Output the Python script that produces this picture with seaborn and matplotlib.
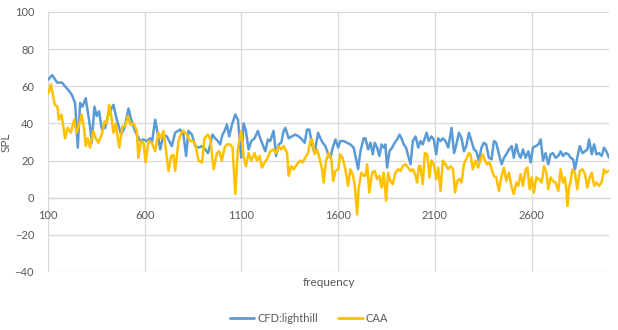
import matplotlib
matplotlib.use("Agg")
import matplotlib.pyplot as plt
import seaborn as sns
import pandas as pd

# ---- data ----
cfd_freq = [100, 122, 147, 172, 188, 205, 223, 240, 254, 266, 278, 295, 317, 326, 340, 352, 364, 378, 395, 409,
            438, 456, 478, 495, 516, 533, 550, 559, 576, 593, 611, 628, 637, 654, 668, 680, 697, 714, 740, 757,
            783, 800, 814, 826, 844, 861, 878, 899, 913, 927, 939, 950, 964, 978, 990, 1002, 1013, 1025, 1037, 1051,
            1068, 1082, 1099, 1111, 1123, 1137, 1151, 1168, 1185, 1197, 1209, 1223, 1237, 1249, 1266, 1279, 1292, 1306, 1318, 1327,
            1344, 1361, 1378, 1396, 1413, 1427, 1439, 1451, 1465, 1478, 1496, 1508, 1520, 1534, 1548, 1560, 1572, 1586, 1600, 1611,
            1628, 1646, 1663, 1680, 1693, 1703, 1715, 1732, 1741, 1755, 1767, 1779, 1789, 1801, 1813, 1824, 1835, 1844, 1853, 1865,
            1879, 1892, 1905, 1917, 1927, 1939, 1951, 1962, 1974, 1986, 2000, 2014, 2025, 2037, 2048, 2057, 2068, 2082, 2094, 2107,
            2117, 2129, 2141, 2155, 2169, 2186, 2199, 2211, 2224, 2238, 2250, 2262, 2276, 2289, 2302, 2314, 2327, 2341, 2353, 2365,
            2379, 2393, 2405, 2417, 2431, 2445, 2457, 2469, 2483, 2497, 2508, 2521, 2531, 2543, 2555, 2569, 2583, 2595, 2607, 2621,
            2635, 2647, 2659, 2672, 2686, 2698, 2710, 2724, 2738, 2750, 2762, 2776, 2790, 2802, 2814, 2824, 2836, 2849, 2863, 2876,
            2888, 2897, 2911, 2923, 2935, 2948, 2962, 2974, 2986, 3000]
cfd_spl = [63.5, 66, 62, 62, 60, 58, 55.5, 51, 27, 51, 49, 53.6, 38.5, 29.6, 49, 44, 46.5, 37, 37.6, 44,
           50, 42, 34, 37.6, 48, 41, 36, 34, 30.5, 31.4, 30.5, 32, 29.6, 42, 34, 26, 34, 33, 27.8, 35,
           36.7, 34, 22.5, 36, 34, 27.8, 27, 27.8, 26, 24, 28.7, 34, 32, 30.5, 28.7, 34, 36, 39.4, 33, 39.4,
           44.8, 42, 21.5, 40, 36, 26, 30.5, 32, 36, 32, 28.7, 25, 31.4, 30.5, 36, 22.5, 28.7, 29.6, 36, 37.6,
           32, 33, 34, 33, 31.4, 29.6, 36.7, 36.7, 28.7, 24, 35, 32, 29.6, 27.8, 23.4, 21.5, 27, 31.4, 27, 30.5,
           30.5, 29.6, 28.7, 27, 20.7, 15.3, 25, 32, 32, 26, 29.6, 23.4, 29.6, 27, 22.5, 28.7, 27, 28.7, 16.2, 25,
           27, 29.6, 31.4, 34, 32, 28.7, 27, 22.5, 18, 30.5, 33, 27, 30.5, 28.7, 32, 35, 30.5, 33, 31.4, 23.4,
           32, 30.5, 32, 30.5, 27, 37.6, 24, 28.7, 35, 32, 25, 27.8, 35, 30.5, 26, 25, 20, 27, 29.6, 28.7,
           21.5, 20.7, 30.5, 29.6, 23.4, 18, 21.5, 23.4, 26, 27.8, 21.5, 28.7, 24, 21.5, 26, 21.5, 25, 19, 27, 27.8,
           28.7, 31.4, 20, 24, 18, 23.4, 24, 21.5, 22.5, 25, 22.5, 24, 23.4, 21.5, 20.7, 15.3, 21.5, 27.8, 24, 25,
           26, 31.4, 23.4, 28.7, 23.4, 24, 22.5, 27, 25, 21.5]

caa_freq = [100, 115, 135, 149, 156, 170, 188, 201, 218, 235, 247, 256, 274, 287, 295, 305, 317, 334, 347, 360,
            378, 391, 404, 416, 426, 438, 450, 468, 485, 499, 513, 525, 542, 559, 567, 581, 593, 605, 619, 637,
            654, 671, 685, 697, 709, 723, 737, 749, 757, 775, 789, 800, 818, 835, 852, 864, 878, 896, 909, 927,
            939, 956, 973, 985, 999, 1013, 1025, 1042, 1054, 1068, 1082, 1099, 1111, 1123, 1137, 1151, 1168, 1180, 1194, 1206,
            1220, 1232, 1249, 1266, 1279, 1292, 1306, 1318, 1327, 1336, 1344, 1358, 1370, 1387, 1404, 1416, 1430, 1444, 1456, 1465,
            1478, 1491, 1503, 1517, 1525, 1537, 1551, 1565, 1574, 1586, 1600, 1611, 1623, 1637, 1651, 1663, 1675, 1685, 1698, 1706,
            1720, 1732, 1741, 1750, 1761, 1775, 1789, 1801, 1813, 1824, 1835, 1848, 1858, 1870, 1882, 1896, 1910, 1922, 1934, 1948,
            1962, 1974, 1986, 2000, 2008, 2017, 2025, 2037, 2048, 2060, 2072, 2082, 2094, 2107, 2117, 2129, 2141, 2155, 2169, 2181,
            2194, 2204, 2216, 2227, 2238, 2250, 2262, 2276, 2284, 2296, 2310, 2324, 2336, 2348, 2358, 2370, 2382, 2393, 2405, 2417,
            2431, 2445, 2457, 2469, 2483, 2497, 2508, 2521, 2531, 2543, 2555, 2569, 2578, 2590, 2600, 2612, 2624, 2638, 2652, 2664,
            2676, 2686, 2698, 2710, 2724, 2738, 2750, 2762, 2772, 2780, 2785, 2793, 2802, 2811, 2824, 2836, 2849, 2863, 2876, 2888,
            2900, 2911, 2923, 2935, 2948, 2962, 2974, 2983, 2997]
caa_spl = [56, 61, 50, 49, 42, 44.7, 32, 37.6, 35, 42, 35, 37.6, 44.7, 36.7, 27.8, 32, 27, 36, 32, 29.6,
           34, 41, 40, 50, 45, 35, 40, 27, 38.5, 38.5, 44, 39.4, 40, 36, 21.5, 30.5, 29.6, 19, 30.5, 29.6,
           25, 35, 32, 36, 26, 14.4, 22.5, 23, 14.4, 30.5, 35, 36, 34, 30.5, 30.5, 27.8, 20, 19, 32, 34,
           31.4, 15.3, 24, 25, 20, 27, 28.7, 28.7, 27, 2, 27, 36, 22.5, 17, 24, 20, 24, 20, 22.5, 16.2,
           19, 20.7, 25, 26, 24, 27.8, 26, 27.8, 26, 24, 11.8, 17, 15.3, 18, 20, 19, 21.5, 24, 30.5, 31.4,
           23.4, 26, 21.5, 15.3, 8.2, 20, 24, 20.7, 9, 14.4, 15.3, 23.4, 21.5, 15.3, 6.4, 15.3, 12.7, 7.3, -9, 5.5,
           13.5, 11.8, 11.8, 18, 2.8, 13.5, 14.4, 10, 11.8, 5.5, 13.5, -1.6, 13.5, 9, 7.3, 13.5, 15.3, 14.4, 17, 18,
           16.2, 14.4, 15.3, 11.8, 8.2, 17, 17, 7.3, 24, 23.4, 10.9, 20, 18, 10, 16.2, 3.7, 20, 18, 15.3, 17,
           15.3, 2.8, 9, 10, 8.2, 18, 20.7, 24, 23.4, 15.3, 20, 16.2, 20.7, 23.4, 20, 18, 19, 15.3, 11.8, 10.9,
           3.7, 11.8, 16.2, 9, 13.5, 5.5, 2, 8.2, 6.4, 12.7, 6.4, 15.3, 16.2, 4.6, 10.9, 2.8, 10.9, 10, 8.2, 17,
           13.5, 4.6, 10.9, 9, 8.2, 3.7, 15.3, 8.2, 10.9, 3.7, -4.3, 5.5, 9, 15.3, 13.5, 4.6, 14.4, 15.3, 12.7, 5.5,
           10.9, 13.5, 6.4, 8.2, 6.4, 8.2, 15.3, 13.5, 14.4]

series_names = ["CFD:lighthill", "CAA"]
series_colors = ["#5B9BD5", "#FFC000"]
x_ticks = [100, 600, 1100, 1600, 2100, 2600]
y_ticks = [-40, -20, 0, 20, 40, 60, 80, 100]

df = pd.concat([
    pd.DataFrame({"frequency": cfd_freq, "SPL": cfd_spl, "series": series_names[0]}),
    pd.DataFrame({"frequency": caa_freq, "SPL": caa_spl, "series": series_names[1]}),
], ignore_index=True)

sns.set_theme(style="white")
plt.rcParams["font.family"] = ["Lato", "DejaVu Sans"]

fig = plt.figure(figsize=(6.18, 3.30), dpi=100)
ax = fig.add_axes([48 / 618, 1 - 272 / 330, 561 / 618, 260 / 330])

sns.lineplot(data=df, x="frequency", y="SPL", hue="series", hue_order=series_names,
             palette=series_colors, linewidth=1.8, ax=ax, legend=False, sort=False,
             estimator=None)

ax.set_xlim(100, 3000)
ax.set_ylim(-40, 100)
ax.set_xticks(x_ticks)
ax.set_yticks(y_ticks)

grid_c = "#D9D9D9"
ax.grid(True, color=grid_c, linewidth=0.9)
ax.set_axisbelow(True)
for s in ["top", "right", "left"]:
    ax.spines[s].set_visible(False)
ax.spines["bottom"].set_position(("data", 0))
ax.spines["bottom"].set_color("#C8C8C8")
ax.spines["bottom"].set_linewidth(0.9)
ax.spines["bottom"].set_zorder(0.5)

tc = "#595959"
ax.tick_params(axis="both", length=0, labelsize=8, labelcolor=tc)
ax.tick_params(axis="x", pad=9)
ax.tick_params(axis="y", pad=10)

ax.set_xlabel("frequency", fontsize=8.5, color=tc)
ax.set_ylabel("SPL", fontsize=8.5, color=tc)
ax.xaxis.set_label_coords(0.5, -0.02)
ax.xaxis.label.set_va("top")
ax.yaxis.set_label_coords(-0.064, 0.5)

handles = [plt.Line2D([], [], color=c, linewidth=2) for c in series_colors]
fig.legend(handles, series_names, loc="center", bbox_to_anchor=(0.5, 1 - 318 / 330), ncol=2,
           frameon=False, fontsize=8, handlelength=2.2, columnspacing=1.8, handletextpad=0.3,
           labelcolor=tc)

fig.savefig("out.png", dpi=100)
